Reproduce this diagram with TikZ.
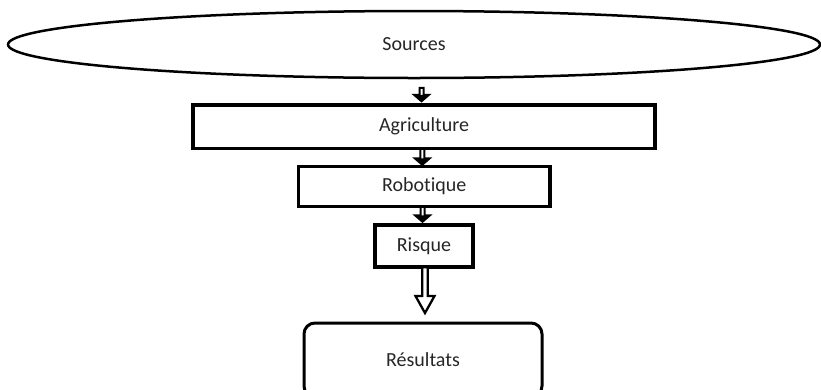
\documentclass[tikz,border=0pt]{standalone}
\usepackage{fontspec}
\setmainfont{Carlito}[RawFeature={-liga;-clig}]
\usetikzlibrary{calc,shapes.geometric}
\definecolor{txt}{gray}{0.15}
\tikzset{
  box/.style={draw=black, line width=3.5pt, rectangle, inner sep=0pt, font=\fontsize{20}{22}\selectfont, text=txt},
  oval/.style={draw=black, line width=2.5pt, ellipse, inner sep=0pt, font=\fontsize{20}{22}\selectfont, text=txt},
  blockarrow/.style={draw=black, fill=white, line join=miter},
}
% hollow block arrow: #1 start, #2 tip, #3 shaft half width, #4 head half width, #5 head length, #6 line width
\newcommand\hollowarrow[6]{%
  \draw[blockarrow, line width=#6] let \p1=(#1), \p2=(#2) in
    (\x2-#3,\y1) -- (\x2-#3,\y2+#5) -- (\x2-#4,\y2+#5) -- (\x2,\y2)
    -- (\x2+#4,\y2+#5) -- (\x2+#3,\y2+#5) -- (\x2+#3,\y1) -- cycle;
}
% small arrow: hollow shaft, solid head
\newcommand\smallarrow[2]{%
  \draw[blockarrow, line width=2pt] let \p1=(#1), \p2=(#2) in
    (\x2-2,\y1) -- (\x2-2,\y2+6.5) -- (\x2-7.5,\y2+6.5) -- (\x2,\y2)
    -- (\x2+7.5,\y2+6.5) -- (\x2+2,\y2+6.5) -- (\x2+2,\y1) -- cycle;
  \fill[black] let \p2=(#2) in
    (\x2-7.5,\y2+6.5) -- (\x2,\y2) -- (\x2+7.5,\y2+6.5) -- cycle;
}
\begin{document}
\begin{tikzpicture}[x=1pt,y=-1pt]
  \useasboundingbox (0,0) rectangle (821,389);
  \begin{scope}
  \clip (0,0) rectangle (821,389);
  \node[oval, minimum width=812, minimum height=67] (src) at (414,44.5) {Sources};
  \node[box, minimum width=462, minimum height=43.5] (agri) at (424,126.75) {Agriculture};
  \node[box, minimum width=251.5, minimum height=40] (robo) at (424.25,186.5) {Robotique};
  \node[box, minimum width=98, minimum height=42] (risk) at (424,246) {Risque};
  \node[box, rounded corners=11pt, line width=3pt, minimum width=238, minimum height=74] (res) at (423,360) {Résultats};

  \coordinate (a1s) at ($(src.south)+(7.5,8.5)$);
  \coordinate (a1t) at ($(agri.north)+(-2.5,-2)$);
  \coordinate (a2s) at ($(agri.south)+(0,-1.5)$);
  \coordinate (a2t) at ($(robo.north)+(-2,0)$);
  \coordinate (a3s) at ($(robo.south)+(0,-1.5)$);
  \coordinate (a3t) at ($(risk.north)+(-1.5,-1.5)$);
  \coordinate (a4s) at ($(risk.south)+(0,-1.5)$);
  \coordinate (a4t) at ($(res.north)+(2,-8.5)$);

  \smallarrow{a1s}{a1t}
  \smallarrow{a2s}{a2t}
  \smallarrow{a3s}{a3t}
  \hollowarrow{a4s}{a4t}{2.75}{9.5}{17}{2.3pt}
  \end{scope}
\end{tikzpicture}
\end{document}
